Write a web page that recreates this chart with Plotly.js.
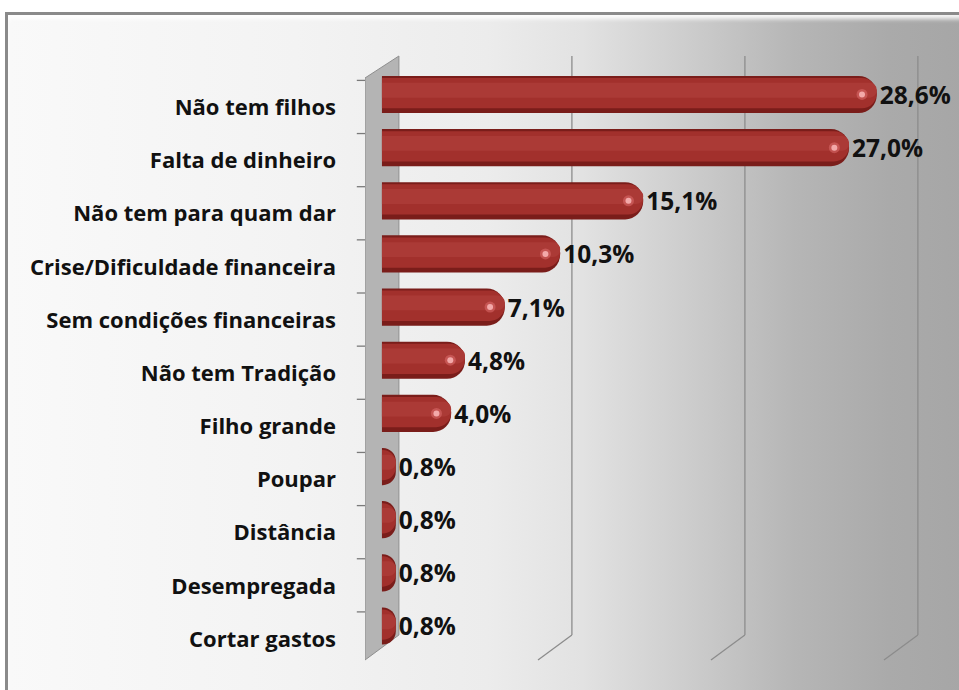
<!DOCTYPE html>
<html>
<head>
<meta charset="utf-8">
<script src="https://cdn.plot.ly/plotly-3.0.1.min.js"></script>
<style>
  html, body { margin: 0; padding: 0; width: 959px; height: 690px; overflow: hidden; background: #ffffff; }
  #frame {
    position: absolute; left: 5px; top: 12px; width: 960px; height: 680px;
    border-left: 3px solid #8a8a8a; border-top: 3px solid #8a8a8a;
    box-sizing: border-box;
    background: linear-gradient(to right, #f9f9f9 0%, #f3f3f3 30%, #ececec 50%, #e2e2e2 60%, #cbcbcb 72%, #b6b6b6 82%, #aaaaaa 92%, #a6a6a6 100%);
    box-shadow: inset 0 4px 4px rgba(255,255,255,0.9);
  }
  #chart { position: absolute; left: 0; top: 0; width: 959px; height: 690px; }
</style>
</head>
<body>
<div id="frame"></div>
<div id="chart"></div>
<script>
// ---- data ----
const categories = [
  "Não tem filhos",
  "Falta de dinheiro",
  "Não tem para quam dar",
  "Crise/Dificuldade financeira",
  "Sem condições financeiras",
  "Não tem Tradição",
  "Filho grande",
  "Poupar",
  "Distância",
  "Desempregada",
  "Cortar gastos"
];
const values = [28.6, 27.0, 15.1, 10.3, 7.1, 4.8, 4.0, 0.8, 0.8, 0.8, 0.8];
const gridValues = [10, 20, 30];

// ---- 3D look parameters (styling only) ----
const depthX = 0.98;      // half depth of the box, x units
const wallTopFront = 0.9636, wallBottomBack = 0.0414; // paper units
const frontShift = 0.235; // category units

const font = "'Open Sans', sans-serif";

const barBase = {
  type: 'bar', orientation: 'h', y: categories, x: values,
  hoverinfo: 'skip', showlegend: false
};

const traces = [
  Object.assign({}, barBase, {
    width: 0.70, marker: {color: '#7a1d1a', cornerradius: '50%', line: {width: 0}},
    texttemplate: '%{x:.1f}%', textposition: 'outside', cliponaxis: false,
    textfont: {family: font, size: 24.5, color: '#111111', weight: 'bold'}
  }),
  Object.assign({}, barBase, {
    width: 0.57, offset: -0.31,
    marker: {color: '#a2302c', cornerradius: '50%', line: {width: 0}}
  }),
  Object.assign({}, barBase, {
    width: 0.28, offset: -0.22,
    marker: {color: '#ab3a36', cornerradius: '50%', line: {width: 0}}
  })
];

// small highlight near the end of longer cylinders
const hlX = [], hlY = [];
values.forEach((v, i) => { if (v >= 2) { hlX.push(v - 0.85); hlY.push(categories[i]); } });
traces.push({
  type: 'scatter', mode: 'markers', x: hlX, y: hlY, hoverinfo: 'skip', showlegend: false,
  marker: {size: 11, color: 'rgba(230,120,120,0.45)', line: {width: 0}}
});
traces.push({
  type: 'scatter', mode: 'markers', x: hlX, y: hlY, hoverinfo: 'skip', showlegend: false,
  marker: {size: 6, color: 'rgba(250,185,185,0.85)', line: {width: 0}}
});

const shapes = [];
// side wall
shapes.push({
  type: 'path', xref: 'x', yref: 'paper', layer: 'below',
  path: `M ${-depthX},${wallTopFront} L ${depthX},1 L ${depthX},${wallBottomBack} L ${-depthX},0 Z`,
  fillcolor: '#b4b4b4', line: {color: '#8e8e8e', width: 1}
});
// gridlines on back wall + floor slants
gridValues.forEach(g => {
  shapes.push({type: 'line', xref: 'x', yref: 'paper', layer: 'below',
    x0: g + depthX, x1: g + depthX, y0: 1, y1: wallBottomBack,
    line: {color: '#8c8c8c', width: 1.3}});
  shapes.push({type: 'line', xref: 'x', yref: 'paper', layer: 'below',
    x0: g + depthX, x1: g - depthX, y0: wallBottomBack, y1: 0,
    line: {color: '#8c8c8c', width: 1.3}});
});
// category boundary ticks on the front edge
for (let k = 0; k <= categories.length; k++) {
  shapes.push({type: 'line', xref: 'paper', yref: 'y', layer: 'below',
    x0: -0.0145, x1: 0, y0: k - 0.5 + frontShift, y1: k - 0.5 + frontShift,
    line: {color: '#7a7a7a', width: 1.3}});
}

const layout = {
  width: 959, height: 690,
  margin: {l: 365, r: 29, t: 56, b: 30},
  paper_bgcolor: 'rgba(0,0,0,0)', plot_bgcolor: 'rgba(0,0,0,0)',
  barmode: 'overlay',
  separators: ',.',
  xaxis: {range: [-0.98, 31.68], showgrid: false, zeroline: false, showticklabels: false,
          showline: false, ticks: '', fixedrange: true},
  yaxis: {type: 'category', range: [10.64, -0.724], showgrid: false, zeroline: false,
          showline: false, ticks: '', ticklabelstandoff: 28, ticklabelshift: -13,
          tickfont: {family: font, size: 22, color: '#111111', weight: 'bold'}, fixedrange: true},
  shapes: shapes,
  font: {family: font}
};

Plotly.newPlot('chart', traces, layout, {staticPlot: true, displayModeBar: false});
</script>
</body>
</html>
